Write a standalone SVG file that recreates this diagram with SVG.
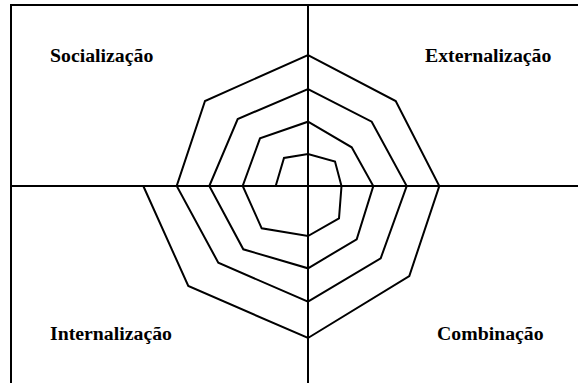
<svg xmlns="http://www.w3.org/2000/svg" width="578" height="383" viewBox="0 0 578 383">
<style>
.ln{fill:none;stroke:#000;stroke-width:2;stroke-linejoin:miter}
.lb{font-family:"Liberation Serif","Times New Roman",serif;font-weight:bold;font-size:19.8px;fill:#000}
</style>
<rect width="578" height="383" fill="#fff"/>
<g id="connectors">
<path class="ln" d="M11,383 V5 H578"/>
<path class="ln" d="M308,5 V383"/>
<path class="ln" d="M11,186 H578"/>
<path class="ln" d="M275.7,186 L284,158 L308,154 L335,161.5 L341.5,186 L339,218.3 L308,236 L261.7,228.3 L242.7,186 L260,138.3 L308,121.7 L351.7,147.3 L373.3,186 L356.7,239.3 L308,268.3 L243.3,249.3 L209.3,186 L237.7,119 L308,89 L371.7,121.7 L406.7,186 L380.7,258.3 L308,301.7 L218.3,262.7 L176.7,186 L205,101 L308,55 L395.7,101 L439.3,186 L409.3,276 L308,338 L188.3,286 L143.3,186"/>
</g>
<g id="socializacao"><text class="lb" x="50" y="62">Socialização</text></g>
<g id="externalizacao"><text class="lb" x="425" y="62">Externalização</text></g>
<g id="internalizacao"><text class="lb" x="50" y="340">Internalização</text></g>
<g id="combinacao"><text class="lb" x="437" y="340">Combinação</text></g>
</svg>
